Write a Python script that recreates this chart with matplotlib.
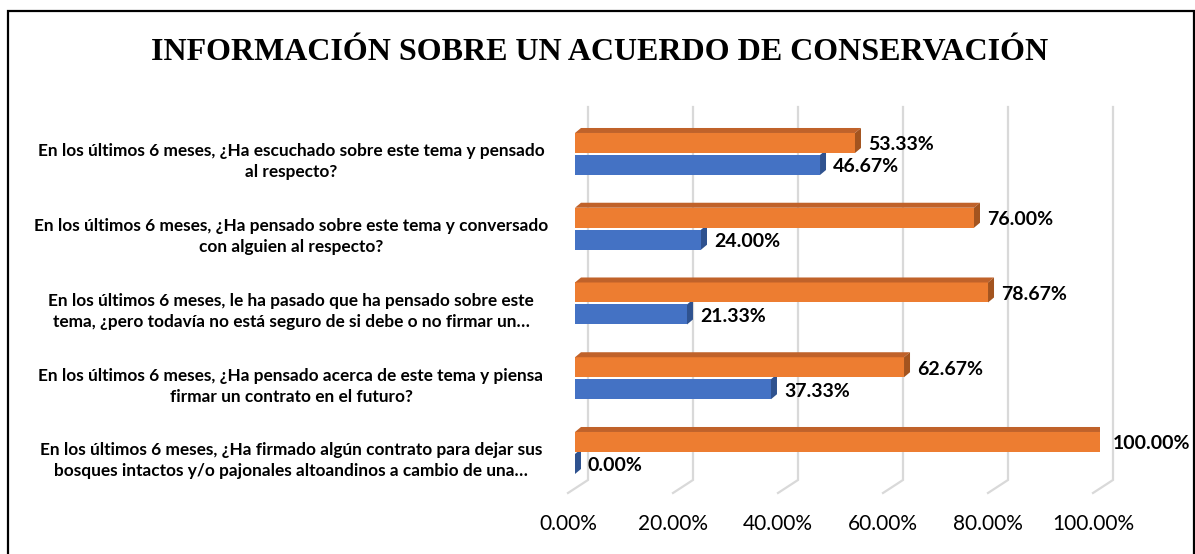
import numpy as np
import matplotlib
matplotlib.use("Agg")
import matplotlib.pyplot as plt
from matplotlib.patches import Polygon, Rectangle
from matplotlib.transforms import ScaledTranslation

# data
preguntas = [
    "En los últimos 6 meses, ¿Ha escuchado sobre este tema y pensado\nal respecto?",
    "En los últimos 6 meses, ¿Ha pensado sobre este tema y conversado\ncon alguien al respecto?",
    "En los últimos 6 meses, le ha pasado que ha pensado sobre este\ntema, ¿pero todavía no está seguro de si debe o no firmar un…",
    "En los últimos 6 meses, ¿Ha pensado acerca de este tema y piensa\nfirmar un contrato en el futuro?",
    "En los últimos 6 meses, ¿Ha firmado algún contrato para dejar sus\nbosques intactos y/o pajonales altoandinos a cambio de una…",
]
serie_naranja = [53.33, 76.00, 78.67, 62.67, 100.00]
serie_azul = [46.67, 24.00, 21.33, 37.33, 0.00]
ticks = [0, 20, 40, 60, 80, 100]
tick_labels = ["0.00%", "20.00%", "40.00%", "60.00%", "80.00%", "100.00%"]
titulo = "INFORMACIÓN SOBRE UN ACUERDO DE CONSERVACIÓN"

W, H = 1195, 554
fig = plt.figure(figsize=(W / 100, H / 100), dpi=100)

# axes: front plane of the 3D chart
ax = fig.add_axes([575 / W, (H - 500) / H, 525 / W, 410 / H])
ax.set_xlim(0, 100)
ax.set_ylim(4.629, -0.856)
for s in ax.spines.values():
    s.set_visible(False)

ux = 100 / 525   # data units per pixel (x)
uy = 1 / 74.75   # data units per pixel (y)
dx, dy = 6 * ux, 5 * uy
bh = 20 * uy
off = 11 * uy

# gridlines (back wall + floor)
for v in ticks:
    xb = v + 13 * ux
    ax.plot([xb, xb, v - 7 * ux], [(107 - 154) * uy, (480 - 154) * uy, (493 - 154) * uy],
            color="#D9D9D9", lw=1.6, zorder=0, clip_on=False, solid_joinstyle="miter")

y = np.arange(len(preguntas))

# blue bars
ax.barh(y + off, serie_azul, height=bh, color="#4472C4", zorder=2)
for yi, v in zip(y + off, serie_azul):
    top, bot = yi - bh / 2, yi + bh / 2
    ax.add_patch(Polygon([(v, top), (v, bot), (v + dx, bot - dy), (v + dx, top - dy)],
                         closed=True, color="#2F528F", zorder=2, lw=0))
    ax.text(v + 13 * ux, yi + 2 * uy, f"{v:.2f}%", ha="left", va="center",
            fontsize=14, fontweight="bold", family="Lato", zorder=5)

# orange bars
ax.barh(y - off, serie_naranja, height=bh, color="#ED7D31", zorder=3)
for yi, v in zip(y - off, serie_naranja):
    top, bot = yi - bh / 2, yi + bh / 2
    ax.add_patch(Polygon([(0, top), (v, top), (v + dx, top - dy), (dx, top - dy)],
                         closed=True, color="#C0622A", zorder=3, lw=0))
    ax.add_patch(Polygon([(v, top), (v, bot), (v + dx, bot - dy), (v + dx, top - dy)],
                         closed=True, color="#A3541F", zorder=3, lw=0))
    ax.text(v + 13 * ux, yi + 2 * uy, f"{v:.2f}%", ha="left", va="center",
            fontsize=14, fontweight="bold", family="Lato", zorder=5)

# x ticks
ax.set_xticks(ticks)
ax.set_xticklabels(tick_labels, fontsize=15, family="Lato")
ax.tick_params(axis="x", length=0, pad=10)
for lab in ax.get_xticklabels():
    lab.set_transform(lab.get_transform() + ScaledTranslation(-7 / 100, 0, fig.dpi_scale_trans))

# category labels
ax.set_yticks(y)
ax.set_yticklabels(preguntas, fontsize=12.4, fontweight="bold", family="Lato",
                   ha="center", multialignment="center", linespacing=1.38)
ax.tick_params(axis="y", length=0, pad=284 * 0.72)
for lab in ax.get_yticklabels():
    lab.set_transform(lab.get_transform() + ScaledTranslation(0, -4 / 100, fig.dpi_scale_trans))

# title
fig.text(600 / W, 1 - 53 / H, titulo, ha="center", va="center",
         fontsize=23, fontweight="bold", family="Liberation Serif")

# frame around the chart
fig.add_artist(Rectangle((7.5 / W, -0.05), (1193.5 - 7.5) / W, 1.05 - 11 / H,
                         transform=fig.transFigure, fill=False, ec="black", lw=1.6))

fig.savefig("out.png", dpi=100)
